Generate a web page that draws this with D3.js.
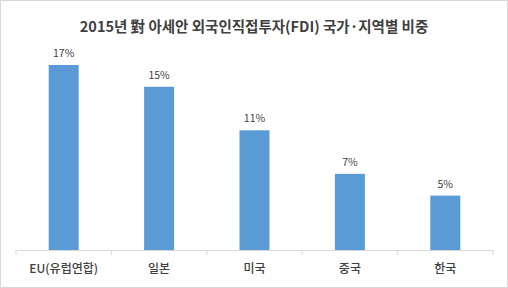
<!DOCTYPE html>
<html><head><meta charset="utf-8">
<script src="https://d3js.org/d3.v7.min.js"></script>
<style>body{margin:0;background:#fff}svg{display:block}</style>
</head><body>
<script>
const categories = ["EU(유럽연합)", "일본", "미국", "중국", "한국"];
const values = [17, 15, 11, 7, 5];
const valueLabels = ["17%", "15%", "11%", "7%", "5%"];
const title = "2015년 對 아세안 외국인직접투자(FDI) 국가·지역별 비중";

const W = 508, H = 288;
const font = "'Noto Sans CJK KR', 'Malgun Gothic', sans-serif";
const svg = d3.select("body").append("svg").attr("width", W).attr("height", H);
svg.append("rect").attr("x", 0.5).attr("y", 0.5).attr("width", W - 1).attr("height", H - 1)
  .attr("fill", "#fff").attr("stroke", "#d9d9d9");

const x = d3.scaleBand().domain(categories).range([16, 493]).paddingInner(0).paddingOuter(0);
const y = d3.scaleLinear().domain([0, 17]).range([250, 65]);
const barW = 30;

svg.append("text").attr("x", 254).attr("y", 32).attr("text-anchor", "middle")
  .attr("font-family", font).attr("font-weight", "bold").attr("font-size", 14.5)
  .attr("fill", "#404040").text(title);

svg.selectAll("rect.bar").data(values).join("rect").attr("class", "bar")
  .attr("x", (d, i) => x(categories[i]) + x.bandwidth() / 2 - barW / 2)
  .attr("y", d => y(d)).attr("width", barW).attr("height", d => y(0) - y(d))
  .attr("fill", "#5b9bd5");

svg.selectAll("text.val").data(values).join("text").attr("class", "val")
  .attr("x", (d, i) => x(categories[i]) + x.bandwidth() / 2)
  .attr("y", d => y(d) - 8).attr("text-anchor", "middle")
  .attr("font-family", font).attr("font-size", 10.5).attr("fill", "#404040")
  .text((d, i) => valueLabels[i]);

const ax = svg.append("g").attr("transform", "translate(0,250)")
  .call(d3.axisBottom(x).tickSize(0).tickPadding(14));
ax.select(".domain").attr("stroke", "#d9d9d9");
ax.selectAll(".tick text").attr("font-family", font).attr("font-size", 12)
  .attr("font-weight", 500).attr("fill", "#404040");
const edges = categories.map(c => x(c)).concat([x.range()[1]]);
ax.selectAll("line.sep").data(edges).join("line").attr("class", "sep")
  .attr("x1", d => d).attr("x2", d => d).attr("y1", 0).attr("y2", 5).attr("stroke", "#d9d9d9");
</script>
</body></html>
